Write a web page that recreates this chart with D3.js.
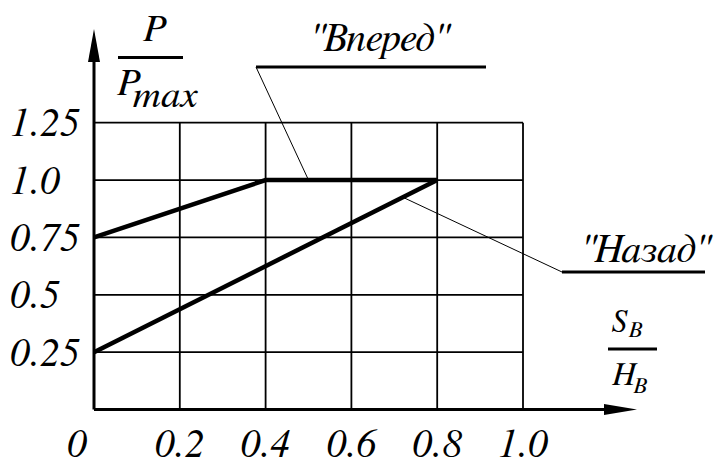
<!DOCTYPE html>
<html>
<head>
<meta charset="utf-8">
<script src="https://cdn.jsdelivr.net/npm/d3@7"></script>
</head>
<body style="margin:0">
<svg id="canvas" width="720" height="459"></svg>
<script>
const xTicks = [0.2, 0.4, 0.6, 0.8, 1.0];
const xTickLabels = ["0.2", "0.4", "0.6", "0.8", "1.0"];
const yTicks = [0.25, 0.5, 0.75, 1.0, 1.25];
const yTickLabels = ["0.25", "0.5", "0.75", "1.0", "1.25"];
const forwardX = [0, 0.4, 0.8];
const forwardY = [0.75, 1.0, 1.0];
const backwardX = [0, 0.8];
const backwardY = [0.25, 1.0];

const FONT = "'FreeSerif', 'Liberation Serif', serif";

const svg = d3.select("#canvas");
const x = d3.scaleLinear().domain([0, 1]).range([94, 523]);
const y = d3.scaleLinear().domain([0, 1.25]).range([409.5, 122.7]);

const line = d3.line()
    .x(d => x(d[0]))
    .y(d => y(d[1]));

drawGrid();
drawAxes();
drawSeries();
drawLabels();

function drawGrid() {
    const g = svg.append("g")
        .attr("stroke", "#000")
        .attr("stroke-width", 1.8);

    yTicks.forEach(t => {
        g.append("line")
            .attr("x1", x(0)).attr("x2", x(1))
            .attr("y1", y(t)).attr("y2", y(t));
    });

    xTicks.forEach(t => {
        g.append("line")
            .attr("x1", x(t)).attr("x2", x(t))
            .attr("y1", y(0)).attr("y2", y(1.25));
    });
}

function drawAxes() {
    const g = svg.append("g")
        .attr("stroke", "#000")
        .attr("stroke-width", 3);

    g.append("line")
        .attr("x1", x(0)).attr("y1", y(0))
        .attr("x2", x(0)).attr("y2", 45);
    g.append("line")
        .attr("x1", x(0)).attr("y1", y(0))
        .attr("x2", 620).attr("y2", y(0));

    // arrow heads
    svg.append("path")
        .attr("d", `M${x(0)},29 L${x(0) - 6},62 L${x(0) + 6},62 Z`)
        .attr("fill", "#000");
    svg.append("path")
        .attr("d", `M637,${y(0)} L604,${y(0) - 5.5} L604,${y(0) + 5.5} Z`)
        .attr("fill", "#000");
}

function drawSeries() {
    const forward = forwardX.map((v, i) => [v, forwardY[i]]);
    const backward = backwardX.map((v, i) => [v, backwardY[i]]);

    [forward, backward].forEach(pts => {
        svg.append("path")
            .attr("d", line(pts))
            .attr("fill", "none")
            .attr("stroke", "#000")
            .attr("stroke-width", 4.5)
            .attr("stroke-linejoin", "miter");
    });

    // leader lines
    const lg = svg.append("g").attr("stroke", "#000");
    lg.append("line")
        .attr("x1", 256).attr("y1", 67)
        .attr("x2", x(0.5)).attr("y2", y(1.0))
        .attr("stroke-width", 1);
    lg.append("line")
        .attr("x1", 256).attr("y1", 67)
        .attr("x2", 486).attr("y2", 67)
        .attr("stroke-width", 3);
    const bx = 0.72;
    const by = backwardY[0] + (backwardY[1] - backwardY[0]) * bx / backwardX[1];
    lg.append("line")
        .attr("x1", x(bx)).attr("y1", y(by))
        .attr("x2", 562).attr("y2", 272)
        .attr("stroke-width", 1);
    lg.append("line")
        .attr("x1", 562).attr("y1", 272)
        .attr("x2", 705).attr("y2", 272)
        .attr("stroke-width", 3);
}

function txt(sel) {
    return sel.attr("font-family", FONT).attr("font-style", "italic").attr("fill", "#000");
}

function drawLabels() {
    const fs = 40;

    txt(svg.selectAll(".ylab")
        .data(yTicks)
        .join("text"))
        .attr("x", 10)
        .attr("y", d => y(d) + 13.5)
        .attr("font-size", fs)
        .text((d, i) => yTickLabels[i]);

    txt(svg.selectAll(".xlab")
        .data(xTicks)
        .join("text"))
        .attr("x", d => x(d))
        .attr("y", 457)
        .attr("text-anchor", "middle")
        .attr("font-size", fs)
        .text((d, i) => xTickLabels[i]);

    txt(svg.append("text"))
        .attr("x", 77).attr("y", 457)
        .attr("text-anchor", "middle")
        .attr("font-size", fs)
        .text("0");

    // y title P / Pmax
    txt(svg.append("text"))
        .attr("x", 154).attr("y", 41)
        .attr("text-anchor", "middle")
        .attr("font-size", 39)
        .text("P");
    svg.append("line")
        .attr("x1", 118).attr("x2", 183)
        .attr("y1", 57.5).attr("y2", 57.5)
        .attr("stroke", "#000").attr("stroke-width", 3);
    const pm = txt(svg.append("text"))
        .attr("x", 117).attr("y", 95)
        .attr("font-size", 39);
    pm.append("tspan").text("P");
    pm.append("tspan").attr("dy", 12).attr("dx", -6).text("max");

    // x title SB / HB
    const sb = txt(svg.append("text"))
        .attr("x", 612).attr("y", 332)
        .attr("font-size", 32);
    sb.append("tspan").text("S");
    sb.append("tspan").attr("dy", 5).attr("dx", 2).attr("font-size", 23).text("B");
    svg.append("line")
        .attr("x1", 608).attr("x2", 657)
        .attr("y1", 349).attr("y2", 349)
        .attr("stroke", "#000").attr("stroke-width", 3);
    const hb = txt(svg.append("text"))
        .attr("x", 612).attr("y", 385)
        .attr("font-size", 33);
    hb.append("tspan").text("H");
    hb.append("tspan").attr("dy", 8).attr("dx", -2).attr("font-size", 23).text("B");

    txt(svg.append("text"))
        .attr("x", 379).attr("y", 51)
        .attr("text-anchor", "middle")
        .attr("font-size", 40)
        .text("\"Вперед\"");
    txt(svg.append("text"))
        .attr("x", 645).attr("y", 262)
        .attr("text-anchor", "middle")
        .attr("font-size", 40)
        .text("\"Назад\"");
}
</script>
</body>
</html>
